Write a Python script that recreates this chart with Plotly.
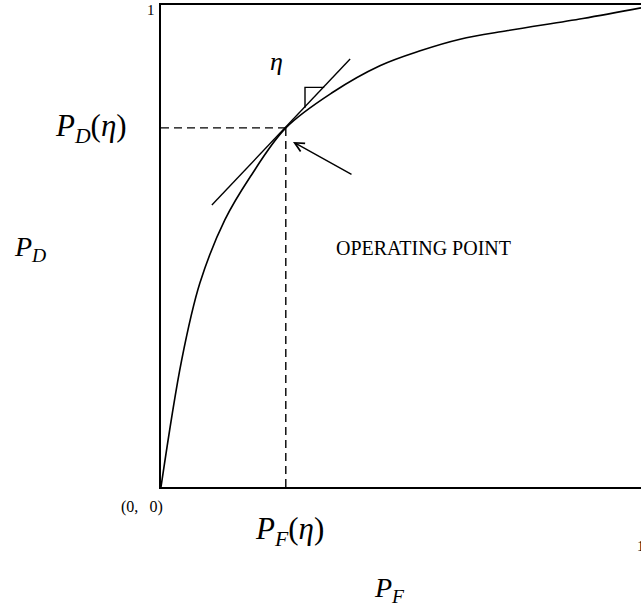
import plotly.graph_objects as go

# ROC curve: probability of false alarm vs probability of detection
pf_curve = [0.0, 0.043, 0.081, 0.133, 0.185,
            0.260, 0.358, 0.456, 0.540, 0.623, 0.723, 0.879, 1.0]
pd_curve = [0.0, 0.263, 0.423, 0.554, 0.642,
            0.745, 0.819, 0.874, 0.905, 0.929, 0.947, 0.972, 0.994]

# operating point on the curve for threshold eta
pf_op = 0.260
pd_op = 0.745

# tangent line through the operating point (slope = eta)
tangent_pf = [0.106, 0.394]
tangent_pd = [0.585, 0.888]

# slope triangle on the tangent
slope_mark_pf = [0.300, 0.300, 0.340]
slope_mark_pd = [0.787, 0.829, 0.829]

SERIF = "Liberation Serif"
BLACK = "black"

fig = go.Figure()

fig.add_trace(go.Scatter(x=pf_curve, y=pd_curve, mode="lines",
                         line=dict(color=BLACK, width=1.6, shape="spline", smoothing=1.0),
                         hoverinfo="skip"))
fig.add_trace(go.Scatter(x=tangent_pf, y=tangent_pd, mode="lines",
                         line=dict(color=BLACK, width=1.4), hoverinfo="skip"))
fig.add_trace(go.Scatter(x=slope_mark_pf, y=slope_mark_pd, mode="lines",
                         line=dict(color=BLACK, width=1.4), hoverinfo="skip"))
# dashed guides to the axes
fig.add_trace(go.Scatter(x=[0, pf_op], y=[pd_op, pd_op], mode="lines",
                         line=dict(color=BLACK, width=1.4, dash="8px,5px"), hoverinfo="skip"))
fig.add_trace(go.Scatter(x=[pf_op, pf_op], y=[0, pd_op], mode="lines",
                         line=dict(color=BLACK, width=1.4, dash="8px,5px"), hoverinfo="skip"))

def label(text, x, y, size):
    # paper coordinates coincide with data coordinates (ranges are [0, 1])
    fig.add_annotation(x=x, y=y, xref="paper", yref="paper", text=text, showarrow=False,
                       font=dict(family=SERIF, size=size, color=BLACK),
                       xanchor="center", yanchor="middle")

label("<i>η</i>", 0.240, 0.882, 26)
label("OPERATING POINT", 0.546, 0.496, 20)
label("<i>P</i><sub><i>D</i></sub>(<i>η</i>)", -0.146, pd_op, 31)
label("<i>P</i><sub><i>D</i></sub>", -0.273, 0.495, 28)
label("<i>P</i><sub><i>F</i></sub>(<i>η</i>)", pf_op + 0.007, -0.092, 31)
label("<i>P</i><sub><i>F</i></sub>", 0.477, -0.213, 28)
label("(0,\u2002\u20090)", -0.040, -0.041, 16)
label("1", -0.021, 0.99, 15)
label("1", 1.0, -0.122, 15)

# arrow pointing at the operating point
fig.add_annotation(x=0.275, y=0.716, ax=0.400, ay=0.647, xref="x", yref="y",
                   axref="x", ayref="y", text="", showarrow=True,
                   arrowhead=5, arrowsize=1.3, arrowwidth=1.4, arrowcolor=BLACK,
                   standoff=0)

fig.update_xaxes(range=[0, 1], showgrid=False, zeroline=False, showticklabels=False,
                 ticks="", showline=True, linecolor=BLACK, linewidth=2, mirror=True)
fig.update_yaxes(range=[0, 1], showgrid=False, zeroline=False, showticklabels=False,
                 ticks="", showline=True, linecolor=BLACK, linewidth=2, mirror=False)

fig.update_layout(width=641, height=606, showlegend=False,
                  paper_bgcolor="white", plot_bgcolor="white",
                  margin=dict(l=161, r=0, t=5, b=119))

fig.write_html("out.html")
